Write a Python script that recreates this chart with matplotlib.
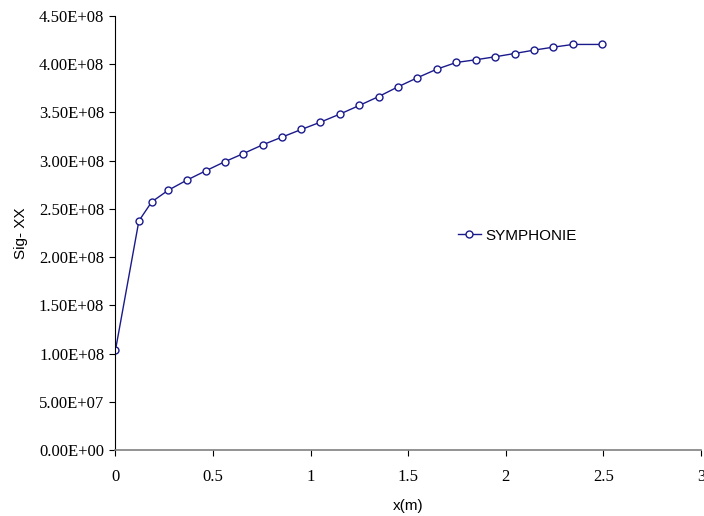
import matplotlib.pyplot as plt

# values
x_m = [0.0, 0.12, 0.186, 0.271, 0.365, 0.462, 0.559, 0.656, 0.754, 0.853,
       0.952, 1.05, 1.149, 1.249, 1.349, 1.448, 1.547, 1.647, 1.746, 1.846,
       1.945, 2.045, 2.144, 2.244, 2.344, 2.494]
sig_xx = [1.034e8, 2.375e8, 2.573e8, 2.694e8, 2.797e8, 2.894e8, 2.988e8, 3.074e8,
          3.164e8, 3.244e8, 3.323e8, 3.399e8, 3.482e8, 3.572e8, 3.665e8, 3.766e8,
          3.86e8, 3.949e8, 4.018e8, 4.046e8, 4.077e8, 4.111e8, 4.146e8, 4.177e8,
          4.205e8, 4.205e8]
x_ticks = [0, 0.5, 1, 1.5, 2, 2.5, 3]
y_ticks = [0, 5e7, 1e8, 1.5e8, 2e8, 2.5e8, 3e8, 3.5e8, 4e8, 4.5e8]

fig = plt.figure(figsize=(7.04, 5.16), dpi=100)
ax = fig.add_axes([0.164, 0.128, 0.8317, 0.841])

ax.plot(x_m, sig_xx, '-o', color='#1a1a8c', linewidth=1.0, markersize=5,
        markerfacecolor='white', markeredgecolor='#1a1a8c', markeredgewidth=1.0,
        label='SYMPHONIE')

ax.set_xlim(0, 3)
ax.set_ylim(0, 4.5e8)
ax.set_xticks(x_ticks)
ax.set_xticklabels([f'{t:g}' for t in x_ticks], family='Liberation Serif', fontsize=12)
ax.set_yticks(y_ticks)
ax.set_yticklabels([f'{t:.2E}' for t in y_ticks], family='Liberation Serif', fontsize=12)
ax.tick_params(direction='out', length=4, width=0.8, pad=4)
ax.tick_params(axis='x', pad=10)

for s in ['top', 'right']:
    ax.spines[s].set_visible(False)
ax.spines['bottom'].set_color('#808080')
ax.spines['bottom'].set_linewidth(1.2)

ax.set_xlabel('x(m)', family='Liberation Sans', fontsize=11, labelpad=10)
ax.set_ylabel('Sig- XX', family='Liberation Sans', fontsize=11, labelpad=8)

ax.legend(loc='center left', bbox_to_anchor=(0.585, 0.494), frameon=False,
          handlelength=1.5, handletextpad=0.3, borderpad=0, borderaxespad=0,
          prop={'family': 'Liberation Sans', 'size': 11})

plt.savefig('out.png', dpi=100)
